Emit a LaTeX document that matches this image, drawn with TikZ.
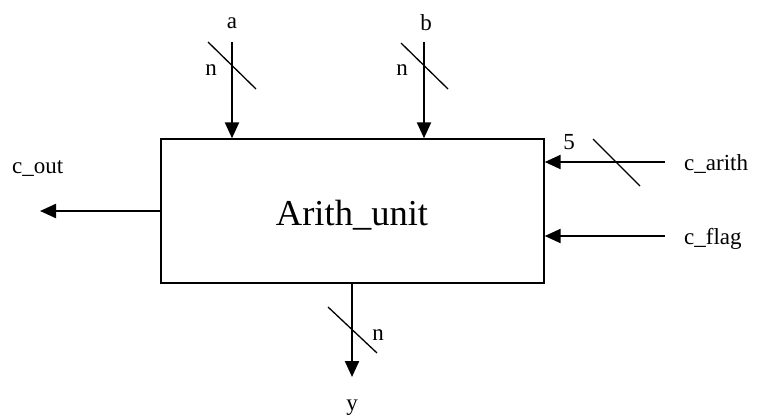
\documentclass[tikz,border=0pt]{standalone}
\usepackage{fontspec}
\setmainfont{Liberation Serif}
\usetikzlibrary{arrows.meta}
\begin{document}
\begin{tikzpicture}[x=1pt, y=-1pt, >={Triangle[length=16pt, width=14pt]},
    bus/.style={line width=2.3pt, ->},
    slash/.style={line width=1.3pt},
    lbl/.style={font=\fontsize{23}{27}\selectfont, inner sep=0pt}]
    % 1. Vùng hiển thị
    \useasboundingbox (0,0) rectangle (760,415);

    % 2. Khối chính
    \node[draw, line width=1.4pt, minimum width=383pt, minimum height=144pt, inner sep=0pt] (unit) at (352.5,211) {};
    \node[font=\fontsize{36.5}{42}\selectfont, inner sep=0pt] (name) at (352,215) {Arith\_unit};

    % 3. Các điểm đầu mút
    \coordinate (aIn) at (232,42);
    \coordinate (bIn) at (424,42);
    \coordinate (arithIn) at (665,162);
    \coordinate (flagIn) at (665,236);
    \coordinate (outEnd) at (40,211);
    \coordinate (yEnd) at (352,377);

    % 4. Các mũi tên
    \draw[bus] (aIn) -- (aIn |- unit.north);
    \draw[bus] (bIn) -- (bIn |- unit.north);
    \draw[bus] (arithIn) -- (arithIn -| unit.east);
    \draw[bus] (flagIn) -- (flagIn -| unit.east);
    \draw[bus] (outEnd -| unit.west) -- (outEnd);
    \draw[bus] (yEnd |- unit.south) -- (yEnd);

    % 5. Gạch chéo độ rộng bus
    \draw[slash] (208,42) -- (256,89);
    \draw[slash] (401,43) -- (448,89);
    \draw[slash] (593,139) -- (640,186);
    \draw[slash] (328,307) -- (377,353);

    % 6. Nhãn
    \node[lbl] (aLbl) at (232,23) {a};
    \node[lbl] (bLbl) at (426,23) {b};
    \node[lbl] (naLbl) at (211,70) {n};
    \node[lbl] (nbLbl) at (402,70) {n};
    \node[lbl] (fiveLbl) at (569,142) {5};
    \node[lbl] (nyLbl) at (378,335) {n};
    \node[lbl, anchor=base] (yLbl) at (352,410) {y};
    \node[lbl, anchor=base west] (arithLbl) at (684,170) {c\_arith};
    \node[lbl, anchor=base west] (flagLbl) at (684,244) {c\_flag};
    \node[lbl, anchor=base west] (outLbl) at (12,173) {c\_out};
\end{tikzpicture}
\end{document}
